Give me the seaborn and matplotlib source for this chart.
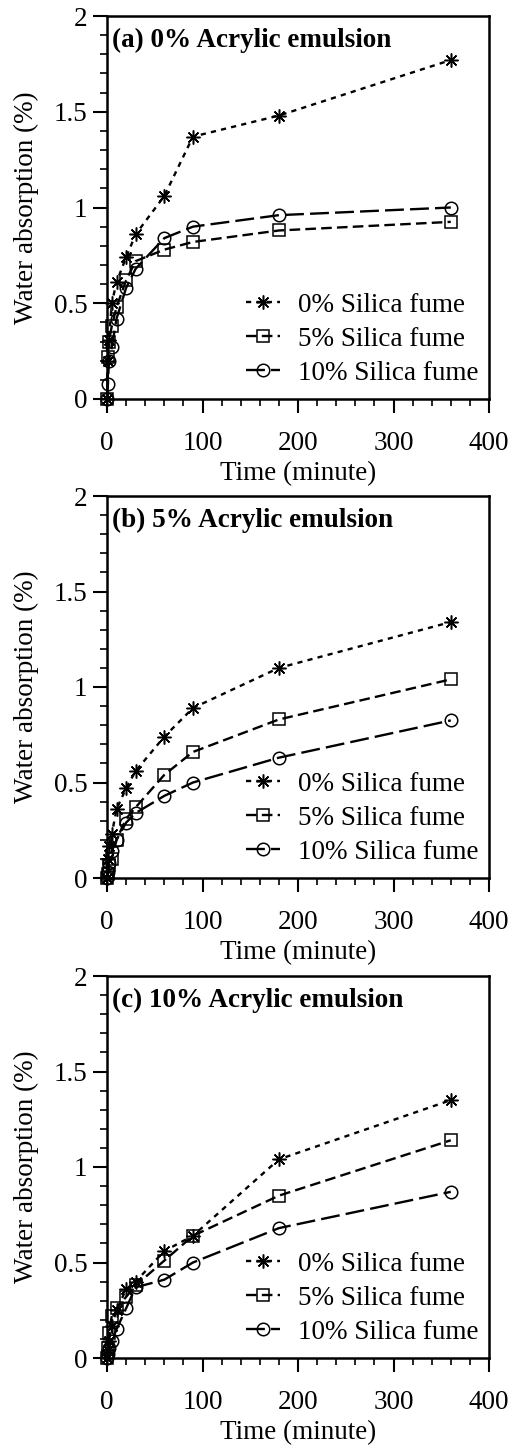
import numpy as np
import pandas as pd
import matplotlib
matplotlib.use("Agg")
import matplotlib.pyplot as plt
import seaborn as sns

sns.set_theme(style="white")
plt.rcParams['font.family'] = ['Liberation Serif', 'DejaVu Serif']
plt.rcParams['text.color'] = 'black'
plt.rcParams['axes.labelcolor'] = 'black'
plt.rcParams['xtick.color'] = 'black'
plt.rcParams['ytick.color'] = 'black'

# ---- data ----
time_min = [0, 1, 2, 5, 10, 20, 30, 60, 90, 180, 360]
series_names = ["0% Silica fume", "5% Silica fume", "10% Silica fume"]
panel_titles = ["(a) 0% Acrylic emulsion", "(b) 5% Acrylic emulsion", "(c) 10% Acrylic emulsion"]

a_sf0 = [0, 0.20, 0.31, 0.50, 0.61, 0.74, 0.86, 1.06, 1.37, 1.48, 1.77]
a_sf5 = [0, 0.22, 0.30, 0.38, 0.48, 0.62, 0.72, 0.78, 0.82, 0.88, 0.925]
a_sf10 = [0, 0.08, 0.20, 0.27, 0.42, 0.58, 0.68, 0.84, 0.90, 0.96, 1.00]

b_sf0 = [0, 0.10, 0.17, 0.23, 0.36, 0.47, 0.56, 0.74, 0.89, 1.10, 1.34]
b_sf5 = [0, 0.02, 0.07, 0.10, 0.20, 0.31, 0.37, 0.54, 0.66, 0.83, 1.04]
b_sf10 = [0, 0.03, 0.08, 0.14, 0.20, 0.29, 0.34, 0.43, 0.50, 0.63, 0.825]

c_sf0 = [0, 0.04, 0.09, 0.17, 0.25, 0.36, 0.40, 0.56, 0.64, 1.04, 1.35]
c_sf5 = [0, 0.05, 0.13, 0.22, 0.26, 0.32, 0.38, 0.51, 0.64, 0.85, 1.14]
c_sf10 = [0, 0.02, 0.05, 0.09, 0.15, 0.26, 0.37, 0.41, 0.50, 0.68, 0.87]

panels = [[a_sf0, a_sf5, a_sf10], [b_sf0, b_sf5, b_sf10], [c_sf0, c_sf5, c_sf10]]

# ---- figure ----
W, H = 509, 1447
fig = plt.figure(figsize=(W / 100, H / 100), dpi=100)
left = 107 / W
width = 382 / W
tops = [16, 496, 976]
bottoms = [399, 878, 1358]

marker_list = [(8, 2, 0), "s", "o"]
dash_list = [(2.2, 2.2), (4.5, 2.2), (8, 2.6)]
msizes = [10, 9, 9]
FS = 19.5

for i, (vals, title) in enumerate(zip(panels, panel_titles)):
    ax = fig.add_axes([left, 1 - bottoms[i] / H, width, (bottoms[i] - tops[i]) / H])
    for name, v, mk, ds, ms in zip(series_names, vals, marker_list, dash_list, msizes):
        df = pd.DataFrame({"Time": time_min, "WA": v})
        sns.lineplot(data=df, x="Time", y="WA", ax=ax, color="black",
                     linewidth=1.7, marker=mk, markersize=ms,
                     markerfacecolor="none", markeredgecolor="black",
                     markeredgewidth=1.1, dashes=ds, label=name)
    for ln in ax.lines:
        ln.set_clip_on(False)
    handles, labels = ax.get_legend_handles_labels()
    if ax.get_legend() is not None:
        ax.get_legend().remove()
    leg = ax.legend(handles, labels, loc="lower right", frameon=False, fontsize=FS,
                    handlelength=1.25, handletextpad=0.65, labelspacing=0.33,
                    borderaxespad=0.0, borderpad=0.0, bbox_to_anchor=(0.972, 0.035))
    for t in leg.get_texts():
        t.set_color("black")
    ax.set_xlim(0, 400)
    ax.set_ylim(0, 2)
    ax.set_xticks([0, 100, 200, 300, 400])
    ax.set_xticks(np.arange(0, 401, 20), minor=True)
    ax.set_yticks([0, 0.5, 1, 1.5, 2])
    ax.set_yticklabels(["0", "0.5", "1", "1.5", "2"])
    ax.set_yticks(np.arange(0, 2.01, 0.1), minor=True)
    ax.tick_params(axis="both", which="major", direction="out", length=10, width=1.5,
                   labelsize=FS, pad=4, colors="black", bottom=True, left=True)
    ax.tick_params(axis="both", which="minor", direction="out", length=5, width=1.2,
                   bottom=True, left=True, colors="black")
    ax.tick_params(axis="x", which="major", pad=13)
    for sp in ax.spines.values():
        sp.set_linewidth(1.8)
        sp.set_color("black")
    ax.set_xlabel("Time (minute)", fontsize=FS, labelpad=4, color="black")
    ax.set_ylabel("Water absorption (%)", fontsize=FS, labelpad=11, color="black")
    ax.text(0.013, 0.97, title, transform=ax.transAxes, ha="left", va="top",
            fontsize=19.5, fontweight="bold", color="black")

fig.savefig("out.png", dpi=100)
